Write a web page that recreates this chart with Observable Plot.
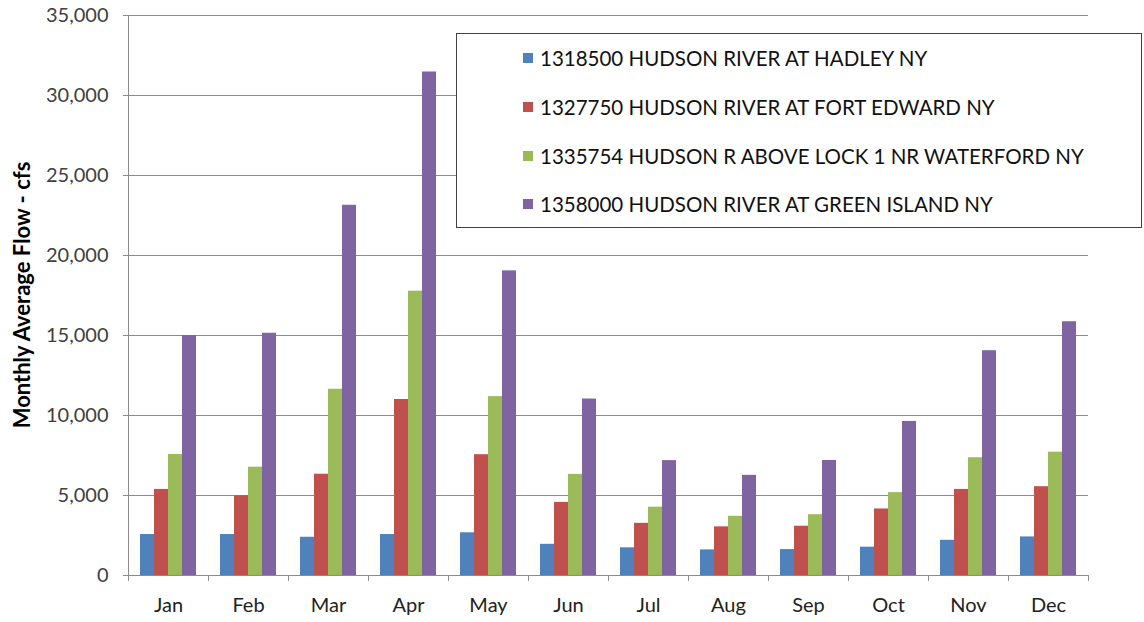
<!DOCTYPE html>
<html>
<head>
<meta charset="utf-8">
<script src="https://cdn.jsdelivr.net/npm/d3@7"></script>
<script src="https://cdn.jsdelivr.net/npm/@observablehq/plot@0.6"></script>
<style>
  html, body { margin: 0; padding: 0; background: #fff; }
  #wrap { position: relative; width: 1144px; height: 622px; font-family: Lato, "Open Sans", sans-serif; }
  #legend { position: absolute; left: 456px; top: 33px; width: 686px; height: 195px;
            border: 1.5px solid #404040; background: #fff; box-sizing: border-box; }
  .item { position: absolute; left: 66px; display: flex; align-items: center; font-size: 20.5px; color: #111; white-space: nowrap; }
  .sw { width: 10px; height: 10px; margin-right: 7px; }
</style>
</head>
<body>
<div id="wrap"><div id="chart"></div><div id="legend"></div></div>
<script>
const months = ["Jan","Feb","Mar","Apr","May","Jun","Jul","Aug","Sep","Oct","Nov","Dec"];
const seriesNames = [
  "1318500 HUDSON RIVER AT HADLEY NY",
  "1327750 HUDSON RIVER AT FORT EDWARD NY",
  "1335754 HUDSON R ABOVE LOCK 1 NR WATERFORD NY",
  "1358000 HUDSON RIVER AT GREEN ISLAND NY"
];
const hadley      = [2560, 2560, 2390, 2560, 2670, 1950, 1730, 1600, 1620, 1770, 2200, 2410];
const fortEdward  = [5380, 4980, 6330, 11000, 7550, 4570, 3260, 3040, 3080, 4160, 5380, 5550];
const waterford   = [7560, 6770, 11640, 17770, 11180, 6320, 4270, 3700, 3800, 5180, 7360, 7710];
const greenIsland = [15000, 15140, 23140, 31470, 19040, 11030, 7180, 6260, 7190, 9630, 14050, 15860];
const colors = ["#4F81BD", "#C0504D", "#9BBB59", "#8064A2"];
const yTicks = [0, 5000, 10000, 15000, 20000, 25000, 30000, 35000];
const yTitle = "Monthly Average Flow - cfs";

const seriesValues = [hadley, fortEdward, waterford, greenIsland];
const data = [];
months.forEach((m, i) => seriesValues.forEach((vals, s) => data.push({month: m, series: seriesNames[s], value: vals[i]})));

const chart = Plot.plot({
  width: 1144, height: 622,
  marginLeft: 128, marginRight: 56, marginTop: 15, marginBottom: 47,
  style: {fontFamily: "Lato, 'Open Sans', sans-serif", fontSize: "20px", color: "#404040", background: "#fff", overflow: "visible"},
  fx: {domain: months, padding: 0, label: null, axis: null},
  x: {domain: seriesNames, paddingInner: 0, paddingOuter: 0.75, axis: null},
  y: {domain: [0, 35000], label: null, axis: null},
  color: {domain: seriesNames, range: colors},
  marks: [
    Plot.gridY(yTicks, {stroke: "#8c8c8c", strokeOpacity: 1, strokeWidth: 1}),
    Plot.barY(data, {fx: "month", x: "series", y: "value", fill: "series"}),
    Plot.axisY(yTicks, {anchor: "left", tickFormat: d3.format(","), tickSize: 5, tickPadding: 15, stroke: "#8c8c8c", fill: "#404040", fontSize: 20, label: null}),
    Plot.axisFx({anchor: "bottom", tickSize: 0, tickPadding: 22, fill: "#222", fontSize: 20, label: null})
  ]
});
document.getElementById("chart").appendChild(chart);

// axis lines and boundary ticks using the library's scales
const svg = d3.select(chart);
const fx = chart.scale("fx"), y = chart.scale("y");
const y0 = y.apply(0), yTop = y.apply(35000);
const left = fx.apply(months[0]);
const step = fx.step ?? fx.bandwidth;
const g = svg.append("g").attr("stroke", "#8c8c8c").attr("stroke-width", 1);
g.append("line").attr("x1", left + 0.5).attr("x2", left + 0.5).attr("y1", yTop).attr("y2", y0);
months.concat([null]).forEach((m, i) => {
  const xb = left + i * step;
  g.append("line").attr("x1", xb + 0.5).attr("x2", xb + 0.5).attr("y1", y0).attr("y2", y0 + 6);
});
svg.append("text")
  .attr("transform", `translate(30,${(y0 + yTop) / 2}) rotate(-90)`)
  .attr("text-anchor", "middle").attr("font-weight", "bold").attr("font-size", 22)
  .attr("fill", "#000").text(yTitle);

// legend
const legend = document.getElementById("legend");
const rowY = [12, 61, 110, 158];
seriesNames.forEach((name, i) => {
  const it = document.createElement("div");
  it.className = "item";
  it.style.top = rowY[i] + "px";
  it.innerHTML = `<span class="sw" style="background:${colors[i]}"></span><span></span>`;
  it.lastChild.textContent = name;
  legend.appendChild(it);
});
</script>
</body>
</html>
